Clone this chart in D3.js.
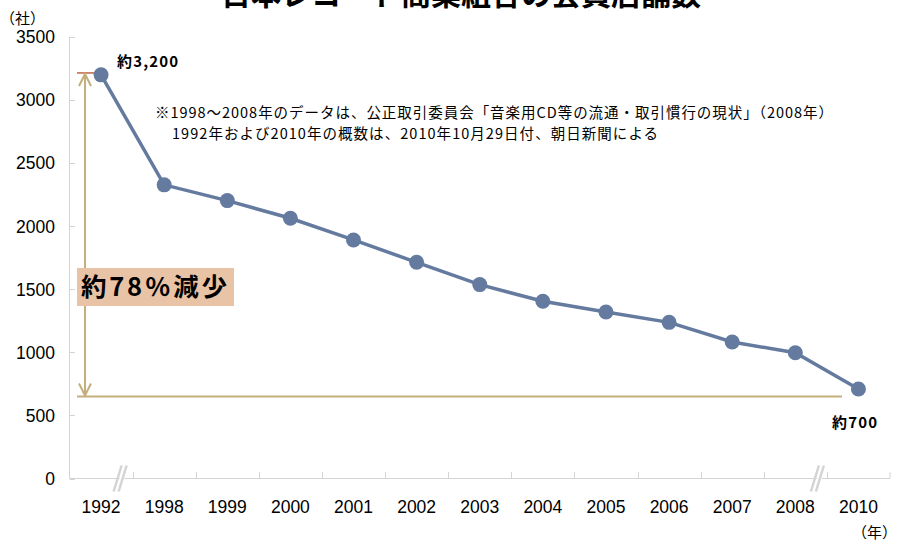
<!DOCTYPE html>
<html>
<head>
<meta charset="utf-8">
<script src="https://cdn.jsdelivr.net/npm/d3@7"></script>
<style>
  body { margin: 0; background: #fff; }
  svg { display: block; }
</style>
</head>
<body>
<svg id="chart" width="897" height="543"></svg>
<script>
// data
const years = ['1992', '1998', '1999', '2000', '2001', '2002', '2003', '2004', '2005', '2006', '2007', '2008', '2010'];
const shops = [3200, 2328, 2203, 2063, 1891, 1714, 1537, 1405, 1320, 1238, 1082, 997, 709];
const yTicks = [0, 500, 1000, 1500, 2000, 2500, 3000, 3500];
const topMark = 3215;
const bottomMark = 650;
const breaks = ['1998', '2010'];

const title = '日本レコード商業組合の会員店舗数';
const noteLines = [
    '※1998～2008年のデータは、公正取引委員会「音楽用CD等の流通・取引慣行の現状」（2008年）',
    '1992年および2010年の概数は、2010年10月29日付、朝日新聞による'
];

const jp = '"Noto Sans CJK JP", "Noto Sans", sans-serif';
const latin = '"Liberation Sans", Arial, sans-serif';
const lineColor = '#647a9f';
const gold = '#c2af7b';
const axisColor = '#d4d4d4';

const svg = d3.select('#chart');

const x = d3.scaleBand().domain(years).range([69.5, 890]);
const y = d3.scaleLinear().domain([0, 3500]).range([478.5, 37]);
const cx = d => x(d) + x.bandwidth() / 2;

// title (cut by the top edge, as in the source image)
svg.append('text')
    .attr('x', 461).attr('y', 5)
    .attr('text-anchor', 'middle')
    .attr('font-family', jp)
    .attr('font-weight', 'bold')
    .attr('font-size', 30)
    .attr('textLength', 480)
    .attr('lengthAdjust', 'spacingAndGlyphs')
    .text(title);

svg.append('text')
    .attr('x', 0).attr('y', 24)
    .attr('font-family', jp)
    .attr('font-size', 15)
    .text('（社）');

// y axis
svg.append('line')
    .attr('x1', 69.5).attr('x2', 69.5)
    .attr('y1', y(3500)).attr('y2', y(0))
    .attr('stroke', axisColor);

svg.append('g')
    .selectAll('line')
    .data(yTicks)
    .join('line')
    .attr('x1', 69.5).attr('x2', 75)
    .attr('y1', d => Math.round(y(d)) + 0.5)
    .attr('y2', d => Math.round(y(d)) + 0.5)
    .attr('stroke', axisColor);

svg.append('g')
    .selectAll('text')
    .data(yTicks)
    .join('text')
    .attr('x', 55)
    .attr('y', d => y(d))
    .attr('dy', '0.36em')
    .attr('text-anchor', 'end')
    .attr('font-family', latin)
    .attr('font-size', 17.5)
    .text(d => d);

// x axis
svg.append('line')
    .attr('x1', 69.5).attr('x2', 890)
    .attr('y1', 478.5).attr('y2', 478.5)
    .attr('stroke', axisColor);

svg.append('g')
    .selectAll('line')
    .data(years.slice(1).concat(['end']))
    .join('line')
    .attr('x1', d => d === 'end' ? 890 : Math.round(x(d)) + 0.5)
    .attr('x2', d => d === 'end' ? 890 : Math.round(x(d)) + 0.5)
    .attr('y1', 472).attr('y2', 478.5)
    .attr('stroke', axisColor);

svg.append('g')
    .selectAll('text')
    .data(years)
    .join('text')
    .attr('x', d => cx(d))
    .attr('y', 513)
    .attr('text-anchor', 'middle')
    .attr('font-family', latin)
    .attr('font-size', 17.5)
    .text(d => d);

svg.append('text')
    .attr('x', 897).attr('y', 538)
    .attr('text-anchor', 'end')
    .attr('font-family', jp)
    .attr('font-size', 15)
    .text('（年）');

// axis break marks
const brk = svg.append('g').selectAll('g').data(breaks).join('g')
    .attr('transform', d => `translate(${x(d) - (d === '1998' ? 12 : 9)},478.5)`);
brk.append('path')
    .attr('d', 'M-5,13 L3,-13 L8,-13 L0,13 Z')
    .attr('fill', '#fff');
brk.selectAll('line')
    .data([-3, 2])
    .join('line')
    .attr('x1', d => d - 4).attr('y1', 13)
    .attr('x2', d => d + 4).attr('y2', -13)
    .attr('stroke', axisColor)
    .attr('stroke-width', 2.5);

// reduction annotation
const arrowX = 85;
svg.append('line')
    .attr('x1', 77).attr('x2', 94)
    .attr('y1', y(topMark)).attr('y2', y(topMark))
    .attr('stroke', '#c0653f').attr('stroke-width', 1.5);

svg.append('line')
    .attr('x1', 77).attr('x2', 842)
    .attr('y1', y(bottomMark)).attr('y2', y(bottomMark))
    .attr('stroke', gold).attr('stroke-width', 2);

svg.append('line')
    .attr('x1', arrowX).attr('x2', arrowX)
    .attr('y1', y(topMark) + 1).attr('y2', y(bottomMark) - 1)
    .attr('stroke', gold).attr('stroke-width', 2);

svg.append('path')
    .attr('d', `M${arrowX - 6},${y(topMark) + 13} L${arrowX},${y(topMark) + 1} L${arrowX + 6},${y(topMark) + 13}`
        + ` M${arrowX - 6},${y(bottomMark) - 13} L${arrowX},${y(bottomMark) - 1} L${arrowX + 6},${y(bottomMark) - 13}`)
    .attr('fill', 'none')
    .attr('stroke', gold).attr('stroke-width', 2);

svg.append('rect')
    .attr('x', 77).attr('y', 268)
    .attr('width', 157).attr('height', 38)
    .attr('fill', '#e9c3a5');

svg.append('text')
    .attr('x', 81).attr('y', 287)
    .attr('dy', '0.36em')
    .attr('font-family', jp)
    .attr('font-weight', 'bold')
    .attr('font-size', 25.5)
    .attr('textLength', 146)
    .attr('lengthAdjust', 'spacing')
    .text('約78％減少');

// series
const line = d3.line()
    .x((d, i) => cx(years[i]))
    .y(d => y(d));

svg.append('path')
    .datum(shops)
    .attr('d', line)
    .attr('fill', 'none')
    .attr('stroke', lineColor)
    .attr('stroke-width', 3.5);

svg.append('g')
    .selectAll('circle')
    .data(shops)
    .join('circle')
    .attr('cx', (d, i) => cx(years[i]))
    .attr('cy', d => y(d))
    .attr('r', 7.5)
    .attr('fill', lineColor);

// value labels
svg.append('text')
    .attr('x', 117).attr('y', 62)
    .attr('dy', '0.36em')
    .attr('font-family', jp)
    .attr('font-weight', 'bold')
    .attr('font-size', 15)
    .attr('textLength', 61)
    .attr('lengthAdjust', 'spacing')
    .text('約3,200');

svg.append('text')
    .attr('x', 832).attr('y', 423)
    .attr('dy', '0.36em')
    .attr('font-family', jp)
    .attr('font-weight', 'bold')
    .attr('font-size', 15)
    .attr('textLength', 45)
    .attr('lengthAdjust', 'spacing')
    .text('約700');

// source note
const noteX = [155, 172];
const noteW = [678, 486];
svg.append('g')
    .selectAll('text')
    .data(noteLines)
    .join('text')
    .attr('x', (d, i) => noteX[i])
    .attr('y', (d, i) => 113 + i * 21)
    .attr('dy', '0.36em')
    .attr('font-family', jp)
    .attr('font-size', 14.5)
    .attr('textLength', (d, i) => noteW[i])
    .attr('lengthAdjust', 'spacing')
    .text(d => d);
</script>
</body>
</html>
